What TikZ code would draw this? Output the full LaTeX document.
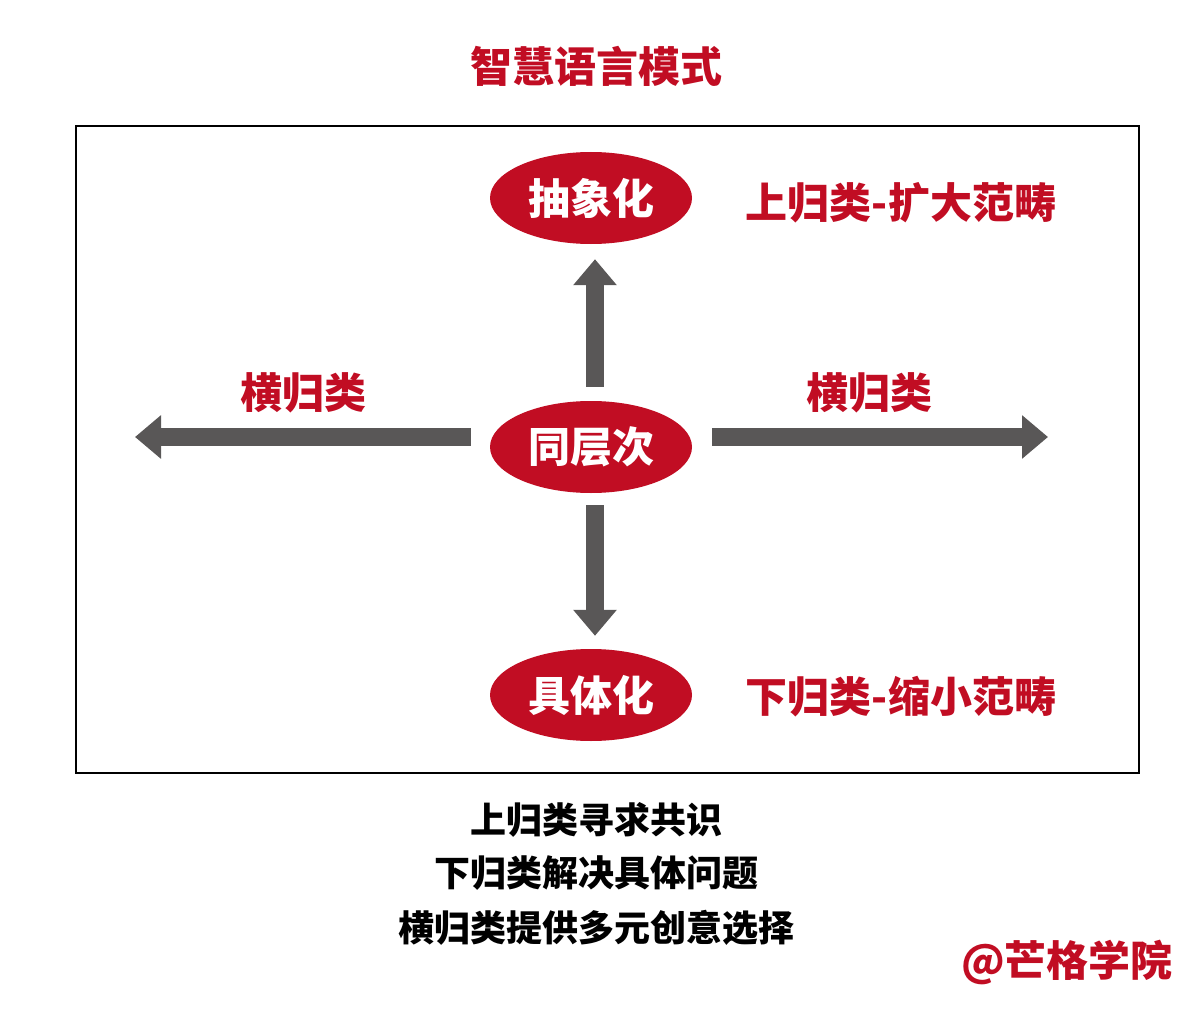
\documentclass[tikz,border=0pt]{standalone}
\usepackage{fontspec}
\newfontfamily\cjk{Noto Sans CJK SC}
\usetikzlibrary{arrows.meta,shapes.geometric}
\definecolor{zred}{HTML}{C10D23}
\definecolor{zgray}{HTML}{595757}
\tikzset{
  oval/.style={ellipse, fill=zred, minimum width=202pt, minimum height=92pt, inner sep=0pt,
               text=white, font=\cjk\bfseries\fontsize{42}{46}\selectfont},
  redtext/.style={text=zred, font=\cjk\bfseries\fontsize{42}{46}\selectfont, inner sep=0pt},
  blacktext/.style={text=black, font=\cjk\bfseries\fontsize{36}{40}\selectfont, inner sep=0pt},
  bigarrow/.style={draw=zgray, line width=18pt, -{Triangle[width=42pt,length=26pt]}, color=zgray}
}
\begin{document}
\begin{tikzpicture}[x=1pt,y=-1pt]
    \useasboundingbox (0,0) rectangle (1200,1030);
    \node[redtext] (title) at (596,66) {智慧语言模式};
    \draw[line width=1.3pt] (76,126) rectangle (1139,773);

    \node[oval] (top) at (591,198) {抽象化};
    \node[oval] (mid) at (591,447) {同层次};
    \node[oval] (bot) at (591,695) {具体化};

    \node[redtext] (uplabel) at (901,203) {上归类-扩大范畴};
    \node[redtext] (downlabel) at (901,697) {下归类-缩小范畴};
    \node[redtext] (leftlabel) at (303,393) {横归类};
    \node[redtext] (rightlabel) at (869,393) {横归类};

    \coordinate (lend) at (135,437);
    \coordinate (rend) at (1048,437);

    \draw[bigarrow] ([xshift=4pt,yshift=14pt]mid.north) -- ([xshift=4pt,yshift=-15pt]top.south);
    \draw[bigarrow] ([xshift=4pt,yshift=-12pt]mid.south) -- ([xshift=4pt,yshift=13pt]bot.north);
    \draw[bigarrow] ([xshift=-19pt,yshift=10pt]mid.west) -- (lend);
    \draw[bigarrow] ([xshift=20pt,yshift=10pt]mid.east) -- (rend);

    \node[blacktext] (line1) at (596,820) {上归类寻求共识};
    \node[blacktext] (line2) at (596,873) {下归类解决具体问题};
    \node[blacktext] (line3) at (596,928) {横归类提供多元创意选择};

    \node[redtext] (brand) at (1067,962) {@芒格学院};
\end{tikzpicture}
\end{document}
